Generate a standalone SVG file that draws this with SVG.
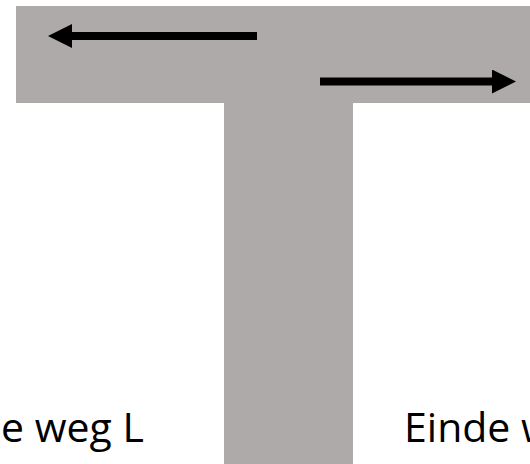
<svg xmlns="http://www.w3.org/2000/svg" width="530" height="464" viewBox="0 0 530 464">
<style>
.road{fill:#AEAAAA}
.arrow{stroke:#000;stroke-width:8;fill:none}
.lbl{font-family:"Open Sans","Liberation Sans",sans-serif;font-size:41px;fill:#000}
</style>
<defs>
<marker id="ah" markerUnits="userSpaceOnUse" markerWidth="24" markerHeight="24" refX="0" refY="12" orient="auto">
<path d="M0,0 L24,12 L0,24 Z" fill="#000"/>
</marker>
</defs>
<g id="road">
<rect class="road" x="16" y="6" width="514" height="97"/>
<rect class="road" x="224" y="100" width="129" height="364"/>
</g>
<g id="connectors">
<line class="arrow" x1="257" y1="36" x2="72" y2="36" marker-end="url(#ah)"/>
<line class="arrow" x1="320" y1="81.5" x2="492" y2="81.5" marker-end="url(#ah)"/>
</g>
<g id="label-left"><text class="lbl" x="1" y="442">e weg L</text></g>
<g id="label-right"><text class="lbl" x="404" y="442">Einde w</text></g>
</svg>
